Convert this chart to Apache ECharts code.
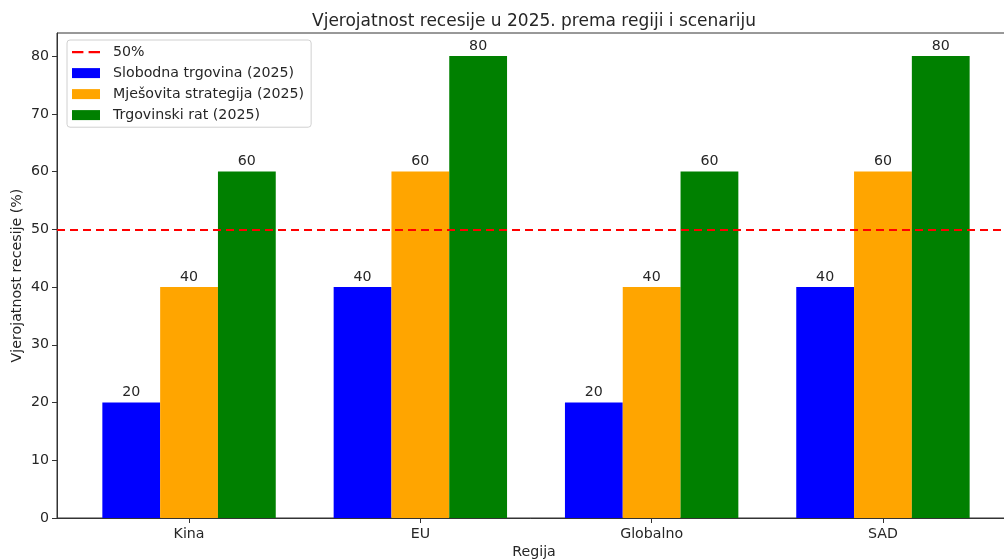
<!DOCTYPE html>
<html><head><meta charset="utf-8">
<script src="https://cdn.jsdelivr.net/npm/echarts@6/dist/echarts.min.js"></script>
<style>html,body{margin:0;padding:0;background:#fff}#c{width:1004px;height:559px}</style>
</head><body><div id="c"></div>
<script>
const regions = ['Kina', 'EU', 'Globalno', 'SAD'];
const slobodna = [20, 40, 20, 40];
const mjesovita = [40, 60, 40, 60];
const trgovinski = [60, 80, 60, 80];
const threshold = 50;
const yTicks = [0, 10, 20, 30, 40, 50, 60, 70, 80];

const font = 'DejaVu Sans';
const fs = 14.2;
const txt = '#262626';
const axisCol = '#333';
const barLabel = {show: true, position: 'top', distance: 3, color: txt, fontFamily: font, fontSize: fs};

const chart = echarts.init(document.getElementById('c'), null, {renderer: 'canvas'});
chart.setOption({
  animation: false,
  title: {text: 'Vjerojatnost recesije u 2025. prema regiji i scenariju', left: 529, textAlign: 'center', top: 8,
    textStyle: {fontFamily: font, fontSize: 17, fontWeight: 'normal', color: txt}},
  legend: {
    orient: 'vertical', left: 67, top: 40, padding: [4, 7, 4, 5], itemGap: 4.8,
    itemWidth: 28, itemHeight: 10, borderColor: '#d0d0d0', borderWidth: 1, borderRadius: 3,
    backgroundColor: 'rgba(255,255,255,0.85)',
    textStyle: {fontFamily: font, fontSize: fs, lineHeight: 16.2, color: txt, padding: [0, 0, 0, 8]},
    data: [
      {name: '50%', icon: 'path://M0,0h11v2h-11z M16,0h11v2h-11z', itemStyle: {color: '#ff0000'}},
      {name: 'Slobodna trgovina (2025)', icon: 'rect'},
      {name: 'Mješovita strategija (2025)', icon: 'rect'},
      {name: 'Trgovinski rat (2025)', icon: 'rect'}
    ]
  },
  grid: [
    {left: 57, right: -7, top: 33, bottom: 41, show: true, borderColor: axisCol, borderWidth: 1,
      containLabel: false, outerBoundsMode: 'none'},
    {left: 73.4, width: 925.2, top: 33, bottom: 41, containLabel: false, outerBoundsMode: 'none'}
  ],
  xAxis: [
    {type: 'value', gridIndex: 0, min: -0.5625, max: 3.5625, axisLabel: {show: false}, axisTick: {show: false},
      splitLine: {show: false}, axisLine: {show: true, onZero: false, lineStyle: {color: axisCol}},
      name: 'Regija', nameLocation: 'middle', nameGap: 27,
      nameTextStyle: {fontFamily: font, fontSize: fs, color: txt}},
    {type: 'category', gridIndex: 1, data: regions, axisLine: {show: false, onZero: false},
      axisTick: {show: true, alignWithLabel: true, length: 5, lineStyle: {color: axisCol}},
      axisLabel: {fontFamily: font, fontSize: fs, color: txt, margin: 9}}
  ],
  yAxis: [
    {type: 'value', gridIndex: 0, min: 0, max: 84, interval: 10,
      axisLine: {show: true, onZero: false, lineStyle: {color: axisCol}},
      axisTick: {show: true, length: 5, lineStyle: {color: axisCol}, customValues: yTicks},
      axisLabel: {fontFamily: font, fontSize: fs, color: txt, margin: 8, customValues: yTicks},
      splitLine: {show: false},
      name: 'Vjerojatnost recesije (%)', nameLocation: 'middle', nameGap: 33, nameMoveOverlap: false,
      nameTextStyle: {fontFamily: font, fontSize: fs, color: txt}},
    {type: 'value', gridIndex: 1, min: 0, max: 84, show: false, splitLine: {show: false}}
  ],
  series: [
    {name: '50%', type: 'line', xAxisIndex: 0, yAxisIndex: 0, data: [], itemStyle: {color: '#ff0000'},
      lineStyle: {color: '#ff0000', type: 'dashed'}, z: 5,
      markLine: {silent: true, symbol: 'none', label: {show: false},
        lineStyle: {color: '#ff0000', type: [8, 5], width: 2},
        data: [{yAxis: threshold}]}},
    {name: 'Slobodna trgovina (2025)', type: 'bar', xAxisIndex: 1, yAxisIndex: 1, data: slobodna,
      barWidth: 57.8, barGap: '0%', itemStyle: {color: '#0000ff'}, label: barLabel},
    {name: 'Mješovita strategija (2025)', type: 'bar', xAxisIndex: 1, yAxisIndex: 1, data: mjesovita,
      barWidth: 57.8, barGap: '0%', itemStyle: {color: '#ffa500'}, label: barLabel},
    {name: 'Trgovinski rat (2025)', type: 'bar', xAxisIndex: 1, yAxisIndex: 1, data: trgovinski,
      barWidth: 57.8, barGap: '0%', itemStyle: {color: '#008000'}, label: barLabel}
  ]
});
</script></body></html>
